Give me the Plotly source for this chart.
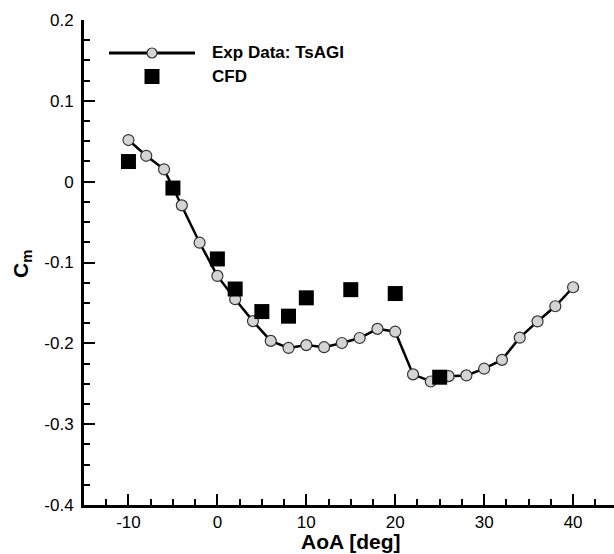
import plotly.graph_objects as go

# ---- data ----
exp_aoa = [-10, -8, -6, -4, -2, 0, 2, 4, 6, 8, 10, 12, 14, 16, 18, 20,
           22, 24, 26, 28, 30, 32, 34, 36, 38, 40]
exp_cm = [0.0515, 0.032, 0.0153, -0.0293, -0.0755, -0.1166, -0.1454, -0.1725,
          -0.197, -0.2057, -0.2022, -0.2048, -0.1996, -0.1934, -0.1821, -0.1856,
          -0.2384, -0.2472, -0.2406, -0.2397, -0.2314, -0.2205, -0.193, -0.1729,
          -0.1541, -0.1306]
cfd_aoa = [-10, -5, 0, 2, 5, 8, 10, 15, 20, 25]
cfd_cm = [0.0249, -0.0079, -0.0956, -0.1328, -0.1607, -0.1664, -0.1437,
          -0.1336, -0.1384, -0.2419]

x_tickvals = [-10, 0, 10, 20, 30, 40]
x_ticktext = ["-10", "0", "10", "20", "30", "40"]
y_tickvals = [0.2, 0.1, 0, -0.1, -0.2, -0.3, -0.4]
y_ticktext = ["0.2", "0.1", "0", "-0.1", "-0.2", "-0.3", "-0.4"]

legend_names = ["Exp Data: TsAGI", "CFD"]
x_title = "AoA [deg]"
y_title = "<b>C<sub>m</sub></b>"

W, H = 614, 554
L, R, T, B = 84, 0, 20, 49
PW, PH = W - L - R, H - T - B


def px(x):
    return (x - L) / PW


def py(y):
    return (H - B - y) / PH


FONT = "Liberation Sans, Arial, sans-serif"

fig = go.Figure()
fig.add_trace(go.Scatter(
    x=exp_aoa, y=exp_cm, mode="lines+markers", name=legend_names[0],
    line=dict(color="black", width=2.5),
    marker=dict(symbol="circle", size=11, color="#d4d4d4",
                line=dict(color="#333333", width=1.2)),
    showlegend=False, cliponaxis=False))
fig.add_trace(go.Scatter(
    x=cfd_aoa, y=cfd_cm, mode="markers", name=legend_names[1],
    marker=dict(symbol="square", size=15, color="black",
                line=dict(width=0)),
    showlegend=False, cliponaxis=False))

axis_common = dict(
    showline=True, linecolor="black", linewidth=3, mirror=False,
    showgrid=False, zeroline=False, ticks="inside", ticklen=11,
    tickwidth=2, tickcolor="black",
    tickfont=dict(family=FONT, size=17, color="black"),
)
fig.update_xaxes(range=[-15, 44.6], tickvals=x_tickvals, ticktext=x_ticktext,
                 minor=dict(dtick=2.5, tick0=0, ticks="inside", ticklen=6,
                            tickwidth=1.5, tickcolor="black"),
                 **axis_common)
fig.update_yaxes(range=[-0.4, 0.2], tickvals=y_tickvals, ticktext=y_ticktext,
                 ticklabelstandoff=4,
                 minor=dict(dtick=0.025, tick0=0, ticks="inside", ticklen=6,
                            tickwidth=1.5, tickcolor="black"),
                 **axis_common)

shapes = [
    dict(type="line", xref="paper", yref="paper", x0=px(109), x1=px(195),
         y0=py(53), y1=py(53), line=dict(color="black", width=3)),
    dict(type="circle", xref="paper", yref="paper", x0=px(147), x1=px(157),
         y0=py(58), y1=py(48), fillcolor="#d4d4d4",
         line=dict(color="#333333", width=1.2)),
    dict(type="rect", xref="paper", yref="paper", x0=px(144.5), x1=px(159.5),
         y0=py(84), y1=py(69), fillcolor="black", line=dict(width=0)),
]
annotations = [
    dict(text="<b>" + legend_names[0] + "</b>", xref="paper", yref="paper",
         x=px(210), y=py(53), xanchor="left", yanchor="middle", showarrow=False,
         font=dict(family=FONT, size=17, color="black")),
    dict(text="<b>" + legend_names[1] + "</b>", xref="paper", yref="paper",
         x=px(210), y=py(76), xanchor="left", yanchor="middle", showarrow=False,
         font=dict(family=FONT, size=17, color="black")),
    dict(text="<b>" + x_title + "</b>", xref="x", yref="paper",
         x=15, y=py(541), xanchor="center", yanchor="middle", showarrow=False,
         font=dict(family=FONT, size=21, color="black")),
    dict(text=y_title, xref="paper", yref="paper", textangle=-90,
         x=px(22), y=py(264), xanchor="center", yanchor="middle",
         showarrow=False, font=dict(family=FONT, size=21, color="black")),
]

fig.update_layout(
    width=W, height=H, margin=dict(l=L, r=R, t=T, b=B, pad=0),
    paper_bgcolor="white", plot_bgcolor="white",
    shapes=shapes, annotations=annotations, showlegend=False,
)

fig.write_html("out.html")
